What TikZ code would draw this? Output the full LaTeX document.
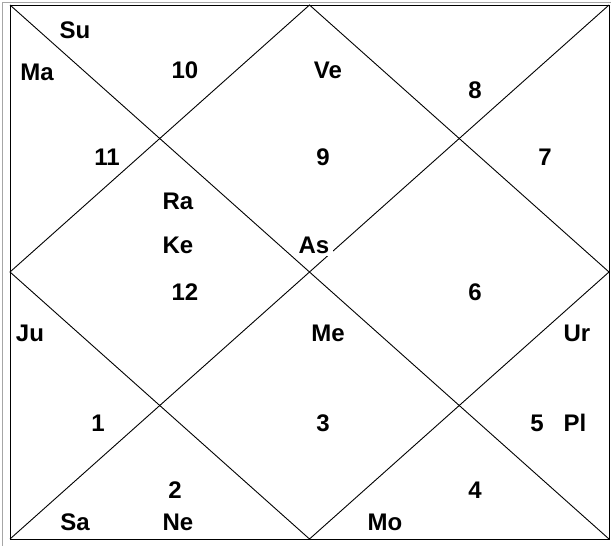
\documentclass[tikz,border=0pt]{standalone}
\usepackage{fontspec}
\setmainfont{Liberation Sans}[BoldFont=Liberation Sans Bold]
\begin{document}
\begin{tikzpicture}[x=1pt,y=-1pt,
  lbl/.style={font=\bfseries\fontsize{24}{28}\selectfont, inner sep=0pt},
  lblw/.style={lbl, fill=white, inner xsep=4pt, inner ysep=3pt},
  chart/.style={line width=0.9pt, black},
  frame/.style={line width=1pt, gray!70}]
\useasboundingbox (0,0) rectangle (611,546);
\fill[white] (0,0) rectangle (611,546);
% outer frame
\draw[frame] (2,546) -- (2,2) -- (611,2);
% chart box corners
\coordinate (tl) at (10,5);
\coordinate (tr) at (609,5);
\coordinate (br) at (609,539);
\coordinate (bl) at (10,539);
\coordinate (tm) at (309.5,5);
\coordinate (rm) at (609,272);
\coordinate (bm) at (309.5,539);
\coordinate (lm) at (10,272);
\draw[chart] (tl) rectangle (br);
\draw[chart] (tl) -- (br);
\draw[chart] (tr) -- (bl);
\draw[chart] (tm) -- (rm) -- (bm) -- (lm) -- cycle;
% labels
\node[lbl] (su) at (75,30) {Su};
\node[lbl] (ma) at (37,72) {Ma};
\node[lbl] (h10) at (185,70) {10};
\node[lbl] (ve) at (328,70) {Ve};
\node[lbl] (h8) at (475,90) {8};
\node[lblw] (h11) at (107,157) {11};
\node[lbl] (h9) at (323,157) {9};
\node[lbl] (h7) at (545,157) {7};
\node[lbl] (ra) at (178,201) {Ra};
\node[lbl] (ke) at (178,245) {Ke};
\node[lblw] (as) at (314,245) {As};
\node[lbl] (h12) at (185,292) {12};
\node[lbl] (h6) at (475,292) {6};
\node[lbl] (ju) at (30,333) {Ju};
\node[lbl] (me) at (328,333) {Me};
\node[lbl] (ur) at (577,333) {Ur};
\node[lbl] (h1) at (98,423) {1};
\node[lbl] (h3) at (323,423) {3};
\node[lbl] (h5) at (537,423) {5};
\node[lbl] (pl) at (575,423) {Pl};
\node[lbl] (h2) at (175,490) {2};
\node[lbl] (h4) at (475,490) {4};
\node[lbl] (sa) at (75,522) {Sa};
\node[lbl] (ne) at (178,522) {Ne};
\node[lbl] (mo) at (385,522) {Mo};
\end{tikzpicture}
\end{document}
